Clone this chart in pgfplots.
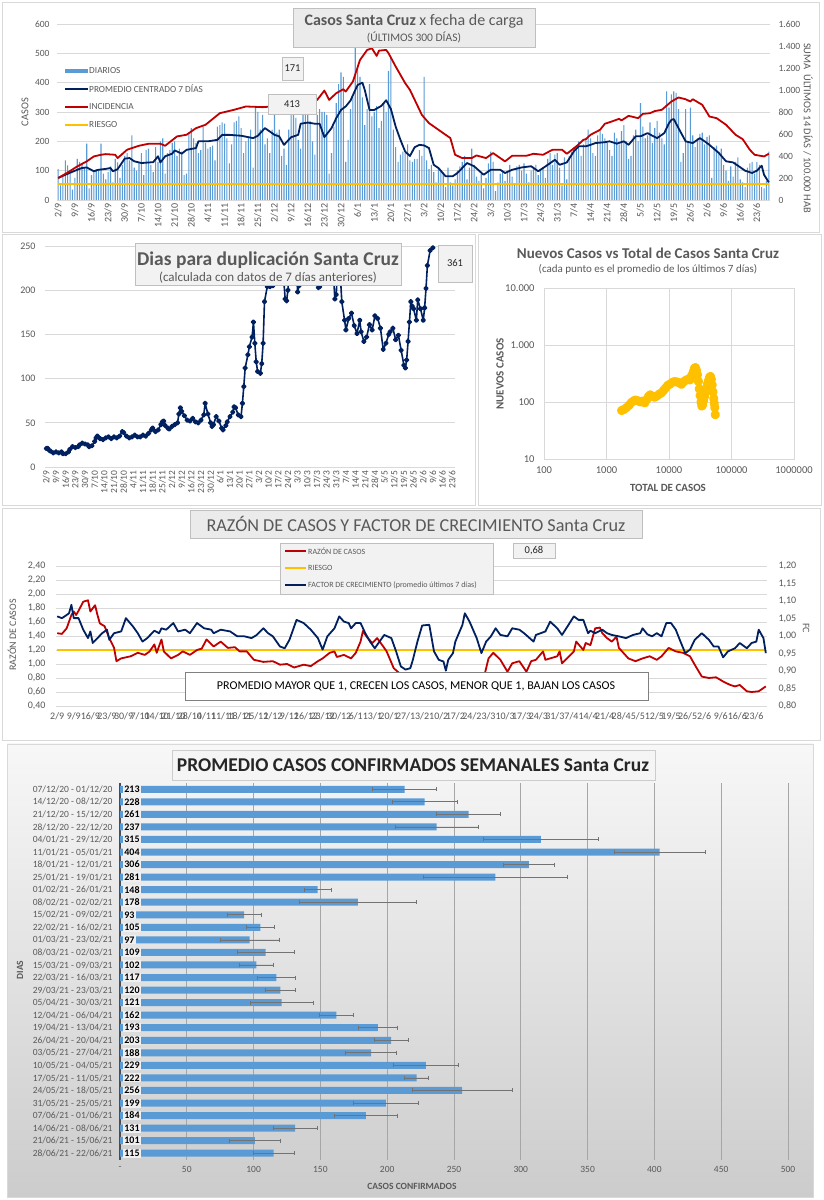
\documentclass[border=0pt]{standalone}
\usepackage{fontspec}
\setmainfont{Carlito}
\usepackage{pgfplots}
\pgfplotsset{compat=1.18}
\usepackage{pgfplotstable}
\definecolor{barblue}{RGB}{91,155,213}
\definecolor{navy}{RGB}{0,32,96}
\definecolor{crimson}{RGB}{192,0,0}
\definecolor{amber}{RGB}{255,192,0}
\definecolor{txt}{RGB}{89,89,89}
\definecolor{gridc}{RGB}{217,217,217}
\definecolor{boxfill}{RGB}{242,242,242}
\definecolor{titlefill}{RGB}{235,235,235}
\definecolor{boxline}{RGB}{191,191,191}
\newcommand{\fs}[1]{\fontsize{#1}{#1}\selectfont}

\pgfplotsset{
  exstyle/.style={scale only axis, anchor=south west, tick style={draw=none},
    grid style={gridc, line width=0.6pt}, tick label style={text=txt},
    /pgf/number format/assume math mode=true},
  datelabels/.style={xtick={0,7,...,294},
    xticklabels={2/9,9/9,16/9,23/9,30/9,7/10,14/10,21/10,28/10,4/11,11/11,18/11,25/11,2/12,9/12,16/12,23/12,30/12,6/1,13/1,20/1,27/1,3/2,10/2,17/2,24/2,3/3,10/3,17/3,24/3,31/3,7/4,14/4,21/4,28/4,5/5,12/5,19/5,26/5,2/6,9/6,16/6,23/6}},
}

% casos diarios, 2/9/2020 -> 28/6/2021
\pgfplotstableread[row sep=\\]{
v\\
105\\50\\80\\135\\118\\90\\35\\
75\\140\\130\\125\\110\\192\\40\\
85\\95\\105\\100\\192\\90\\70\\
95\\115\\60\\140\\128\\75\\120\\
150\\160\\135\\220\\110\\100\\130\\
160\\85\\170\\175\\120\\95\\180\\
130\\200\\210\\90\\160\\170\\195\\
200\\150\\175\\165\\85\\90\\230\\
245\\210\\195\\160\\170\\250\\195\\
175\\180\\185\\135\\250\\255\\265\\
260\\210\\125\\190\\265\\270\\285\\
245\\160\\200\\215\\240\\110\\320\\
300\\240\\290\\190\\210\\160\\240\\
290\\230\\240\\150\\175\\120\\240\\
300\\320\\280\\205\\175\\300\\290\\
310\\270\\200\\155\\290\\310\\300\\
300\\290\\90\\160\\250\\330\\395\\
435\\420\\130\\205\\310\\350\\530\\
460\\420\\350\\255\\310\\395\\285\\
300\\320\\245\\270\\330\\300\\440\\
490\\240\\180\\130\\155\\165\\160\\
190\\135\\130\\140\\140\\170\\150\\
420\\135\\105\\120\\95\\60\\110\\
100\\90\\45\\110\\60\\50\\70\\
100\\115\\130\\150\\70\\110\\175\\
120\\80\\65\\90\\40\\75\\125\\
165\\130\\30\\60\\90\\95\\65\\
100\\120\\80\\55\\115\\120\\100\\
125\\90\\60\\100\\110\\120\\85\\
105\\110\\75\\140\\160\\120\\155\\
160\\110\\50\\145\\70\\150\\165\\
180\\175\\200\\150\\190\\210\\240\\
210\\160\\150\\220\\235\\225\\210\\
195\\170\\150\\230\\210\\190\\235\\
255\\200\\140\\150\\220\\240\\200\\
330\\250\\210\\220\\265\\195\\245\\
270\\230\\210\\190\\370\\315\\360\\
370\\365\\310\\130\\160\\310\\200\\
315\\220\\180\\210\\225\\230\\190\\
215\\220\\75\\180\\185\\165\\175\\
120\\100\\65\\115\\80\\130\\145\\
70\\60\\45\\110\\125\\130\\90\\
130\\120\\45\\40\\65\\165\\
}\diarios

\begin{document}
\begin{tikzpicture}
\useasboundingbox (0pt,0pt) rectangle (823pt,1200pt);
\fill[white] (0pt,0pt) rectangle (823pt,1200pt);
\begin{scope}[x=1pt,y=1pt]
\draw[gridc] (2,968) rectangle (819,1198);
\draw[gridc] (2,695) rectangle (475,966);
\draw[gridc] (478,695) rectangle (821,966);
\draw[gridc] (2,460) rectangle (820,692);
\shade[top color=white!97!black, bottom color=white!80!black] (7,3) rectangle (813,456);
\draw[gridc] (7,3) rectangle (813,456);
\end{scope}

% ---------- panel 1: casos diarios ----------
\begin{axis}[exstyle, at={(57pt,1000pt)}, width=713pt, height=176pt,
  xmin=-0.5, xmax=299.5, ymin=0, ymax=600, datelabels,
  axis x line*=bottom, axis y line*=left, x axis line style={gridc}, y axis line style={draw=none},
  xticklabel style={rotate=90, anchor=east, font=\fs{10}},
  ytick={0,100,...,600}, ymajorgrids, yticklabel style={font=\fs{9.5}, xshift=-4pt}, scaled y ticks=false]
\addplot[ybar, bar width=1.1pt, fill=barblue, draw=none] table[x expr=\coordindex, y=v]{\diarios};
\addplot[amber, line width=2pt] coordinates {(0,56)(299,56)};
\addplot[navy, line width=1.8pt, line join=round] coordinates {
(0,75)(3,86)(8,103)(10,109)(12,111)(15,98)(17,103)(20,106)(22,109)(23,98)(25,105)(28,141)(30,143)(32,132)(35,126)(40,129)(42,149)(43,128)(45,149)(48,158)(49,169)(52,158)(54,171)(56,174)(58,177)(59,200)(61,200)(63,200)(67,205)(69,222)(72,222)(77,219)(82,211)(84,219)(87,245)(90,228)(91,222)(93,217)(95,188)(98,214)(101,222)(102,260)(105,264)(108,260)(110,260)(112,214)(115,245)(117,279)(119,307)(121,319)(123,339)(125,375)(126,392)(128,400)(129,375)(131,307)(133,307)(136,321)(138,340)(140,310)(142,250)(144,205)(146,165)(148,150)(150,180)(152,188)(154,186)(156,177)(158,120)(160,109)(163,81)(166,81)(168,92)(170,109)(172,126)(175,115)(179,86)(182,103)(186,103)(188,92)(191,103)(195,111)(199,115)(202,98)(206,120)(209,137)(211,120)(214,128)(217,166)(219,183)(222,183)(224,188)(226,194)(230,197)(232,200)(235,192)(238,200)(240,188)(243,217)(245,217)(248,228)(250,219)(252,211)(255,228)(257,262)(258,273)(259,276)(261,245)(264,200)(267,194)(270,211)(272,200)(274,188)(278,160)(281,132)(284,128)(286,117)(289,100)(292,92)(294,100)(296,117)(297,86)(299,60)};
\end{axis}
\begin{axis}[exstyle, at={(57pt,1000pt)}, width=713pt, height=176pt,
  xmin=-0.5, xmax=299.5, ymin=0, ymax=1600,
  axis x line=none, axis y line*=right, y axis line style={draw=none},
  ytick={0,200,...,1600}, scaled y ticks=false,
  yticklabel style={font=\fs{9.5}, xshift=5pt, /pgf/number format/1000 sep={.}}]
\addplot[crimson, line width=1.8pt, line join=round] coordinates {
(0,200)(4,250)(8,305)(12,351)(15,396)(18,411)(20,417)(24,411)(25,381)(29,457)(34,493)(38,511)(43,511)(45,493)(50,578)(54,593)(58,653)(62,684)(68,789)(74,820)(79,850)(86,844)(90,850)(95,870)(100,890)(105,905)(109,910)(112,995)(114,910)(117,971)(120,1007)(121,986)(124,1077)(127,1273)(130,1364)(132,1379)(134,1310)(135,1358)(138,1364)(139,1334)(142,1213)(146,1062)(148,1001)(152,820)(153,774)(156,699)(162,608)(165,563)(167,411)(170,381)(174,381)(176,405)(180,381)(183,426)(188,351)(191,402)(197,402)(200,420)(204,411)(208,457)(212,457)(214,420)(218,487)(221,547)(222,553)(224,593)(228,638)(230,693)(233,714)(236,738)(237,723)(240,765)(244,744)(246,783)(249,789)(251,808)(254,820)(258,895)(261,932)(264,916)(266,895)(267,916)(271,865)(274,759)(277,744)(281,684)(285,593)(288,553)(291,457)(293,411)(297,396)(299,420)};
\end{axis}

% ---------- panel 2: dias para duplicacion ----------
\begin{axis}[exstyle, at={(45pt,733pt)}, width=410pt, height=221pt,
  xmin=-1, xmax=296, ymin=0, ymax=250, datelabels,
  axis x line*=bottom, axis y line*=left, x axis line style={gridc}, y axis line style={draw=none},
  xticklabel style={rotate=90, anchor=east, font=\fs{9.5}},
  ytick={0,50,...,250}, ymajorgrids, yticklabel style={font=\fs{10}, xshift=-6pt}]
\addplot[navy, line width=1.6pt, line join=round, mark=*, mark size=1.9pt, mark options={fill=navy}] coordinates {
(0,21)(1,21)(2,19)(3,18)(5,16)(7,17)(9,16)(11,17)(12,15)(14,15)(16,17)(17,20)(19,23)(21,22)(23,23)(24,25)(26,27)(28,26)(30,25)(31,23)(33,24)(35,29)(36,33)(37,35)(39,32)(41,31)(43,33)(45,34)(47,32)(49,34)(51,33)(53,35)(55,40)(56,39)(58,35)(60,33)(62,34)(64,36)(66,34)(68,34)(70,36)(72,35)(74,38)(76,42)(77,44)(79,40)(81,42)(83,48)(84,51)(85,52)(86,47)(88,44)(89,43)(91,46)(93,48)(95,50)(96,60)(97,67)(98,63)(100,58)(102,53)(104,52)(106,55)(108,51)(110,50)(112,53)(114,59)(115,72)(117,60)(119,50)(120,46)(121,48)(123,57)(125,52)(127,44)(128,42)(130,47)(131,51)(133,57)(135,62)(136,68)(137,67)(139,59)(141,57)(142,72)(143,91)(144,112)(146,127)(147,136)(149,147)(150,164)(151,140)(152,119)(153,108)(155,106)(156,117)(157,140)(158,187)(160,204)(162,204)(164,205)(166,240)(168,300)(170,260)(172,210)(173,190)(174,188)(175,200)(177,260)(179,300)(181,240)(182,198)(183,205)(185,260)(188,320)(191,300)(194,260)(196,210)(197,203)(198,204)(200,230)(203,290)(206,260)(208,215)(209,190)(210,195)(211,230)(213,215)(214,187)(216,166)(217,155)(219,168)(221,174)(223,160)(225,151)(227,166)(228,153)(230,142)(232,147)(234,161)(236,155)(238,171)(240,168)(242,157)(244,133)(246,140)(248,150)(249,153)(251,157)(253,144)(255,149)(257,132)(259,115)(260,112)(261,121)(262,142)(263,164)(264,187)(265,182)(266,179)(268,166)(269,189)(271,179)(273,166)(274,180)(275,202)(276,228)(278,245)(280,248)};
\end{axis}

% ---------- panel 3: nuevos vs total ----------
\begin{loglogaxis}[exstyle, at={(544pt,741pt)}, width=250pt, height=171pt,
  xmin=100, xmax=1000000, ymin=10, ymax=10000,
  xtick={100,1000,10000,100000,1000000}, xticklabels={100,1000,10000,100000,1000000},
  ytick={10,100,1000,10000}, yticklabels={10,100,1.000,10.000},
  grid=major, axis line style={gridc},
  xticklabel style={font=\fs{10.5}, yshift=-4pt}, yticklabel style={font=\fs{10.5}, xshift=-6pt}]
\addplot[amber, line width=4pt, line join=round, line cap=round, mark=*, mark size=2.6pt, mark options={fill=amber}] coordinates {
(1750,71)(1900,74)(2100,80)(2300,88)(2500,98)(2700,104)(2900,108)(3200,105)(3500,100)(3800,104)(4100,97)(4400,110)(4700,125)(5000,133)(5400,126)(5900,121)(6400,128)(7000,138)(7600,145)(8200,160)(8800,175)(9500,195)(10300,205)(11200,220)(12200,228)(13300,225)(14500,218)(15800,205)(17000,225)(18500,240)(20000,250)(21500,245)(23000,290)(24500,340)(25500,390)(26500,400)(27500,360)(28500,300)(29500,230)(30500,170)(31500,130)(32500,100)(33500,85)(34500,90)(35500,105)(37000,125)(38500,150)(40000,180)(41500,210)(43000,240)(44500,270)(46000,280)(47500,250)(49000,200)(50500,150)(52000,115)(53000,95)(54000,80)(55000,60)};
\end{loglogaxis}

% ---------- panel 4: razon de casos y factor de crecimiento ----------
\begin{axis}[exstyle, at={(56pt,494pt)}, width=711pt, height=140pt,
  xmin=-0.5, xmax=299.5, ymin=0.4, ymax=2.4, datelabels,
  axis x line*=bottom, axis y line*=left, x axis line style={gridc}, y axis line style={draw=none},
  xticklabel style={font=\fs{10}, yshift=-3pt},
  ytick={0.4,0.6,...,2.41}, ymajorgrids,
  yticklabel style={font=\fs{10}, xshift=-7pt, /pgf/number format/.cd, fixed, fixed zerofill, precision=2, use comma}]
\addplot[amber, line width=2pt] coordinates {(0,1.2)(299,1.2)};
\addplot[crimson, line width=1.8pt, line join=round] coordinates {
(0,1.44)(2,1.43)(4,1.51)(6,1.70)(7,1.75)(8,1.70)(9,1.76)(11,1.89)(13,1.91)(14,1.75)(16,1.84)(17,1.70)(18,1.58)(20,1.54)(22,1.37)(24,1.23)(25,1.04)(27,1.08)(31,1.11)(34,1.16)(37,1.13)(39,1.18)(41,1.28)(42,1.16)(44,1.35)(45,1.18)(48,1.08)(51,1.13)(53,1.18)(56,1.13)(59,1.20)(61,1.22)(63,1.35)(66,1.25)(69,1.32)(72,1.23)(75,1.24)(77,1.18)(80,1.18)(83,1.06)(87,1.03)(91,1.04)(94,0.99)(97,1.00)(100,0.95)(104,0.99)(107,0.97)(110,1.04)(112,1.08)(115,1.16)(117,1.18)(118,1.10)(121,1.13)(124,1.08)(126,1.16)(128,1.32)(129,1.47)(131,1.37)(133,1.30)(135,1.37)(138,1.23)(139,1.18)(142,0.94)(145,0.85)(148,0.77)(150,0.72)(152,0.61)(155,0.54)(157,0.56)(160,0.59)(164,0.63)(167,0.66)(168,0.56)(171,0.56)(174,0.61)(178,0.68)(180,0.80)(182,1.08)(184,1.16)(187,1.06)(190,0.89)(192,1.01)(195,1.04)(198,0.89)(200,1.04)(202,1.06)(205,1.18)(206,1.06)(211,1.11)(212,1.18)(213,1.01)(216,1.11)(218,1.18)(219,1.32)(222,1.20)(223,1.30)(225,1.27)(227,1.51)(229,1.52)(230,1.44)(232,1.37)(234,1.32)(236,1.39)(237,1.23)(241,1.08)(244,1.04)(247,1.08)(250,1.11)(253,1.06)(255,1.11)(258,1.23)(261,1.18)(264,1.16)(267,1.11)(269,0.99)(272,0.82)(275,0.80)(278,0.81)(281,0.75)(284,0.70)(286,0.68)(288,0.70)(291,0.61)(293,0.60)(296,0.61)(299,0.68)};
\end{axis}
\begin{axis}[exstyle, at={(56pt,494pt)}, width=711pt, height=140pt,
  xmin=-0.5, xmax=299.5, ymin=0.8, ymax=1.2,
  axis x line=none, axis y line*=right, y axis line style={draw=none},
  ytick={0.8,0.85,...,1.21},
  yticklabel style={font=\fs{10}, xshift=8pt, /pgf/number format/.cd, fixed, fixed zerofill, precision=2, use comma}]
\addplot[navy, line width=1.8pt, line join=round] coordinates {
(0,1.056)(2,1.051)(4,1.060)(5,1.065)(6,1.089)(7,1.051)(9,1.051)(11,1.018)(13,0.994)(14,1.013)(15,0.980)(17,0.994)(19,1.008)(21,1.018)(22,0.989)(24,1.008)(27,1.013)(29,1.051)(32,1.027)(34,1.008)(36,0.984)(38,0.994)(41,1.015)(43,1.008)(44,1.022)(46,1.018)(49,1.037)(51,1.013)(54,1.018)(56,1.008)(59,1.037)(62,1.022)(65,1.018)(66,1.008)(69,1.018)(73,1.013)(76,0.999)(79,0.999)(82,0.994)(84,1.002)(87,1.022)(89,1.008)(91,0.999)(94,0.970)(96,0.965)(98,0.989)(101,1.046)(104,1.037)(107,1.018)(110,0.994)(112,0.961)(114,0.999)(117,1.022)(119,1.056)(121,1.041)(123,1.037)(124,1.022)(126,1.037)(128,1.037)(130,1.008)(132,0.984)(134,0.965)(136,0.984)(138,1.003)(141,0.994)(143,0.956)(145,0.913)(147,0.904)(149,0.908)(150,0.930)(152,0.984)(154,1.030)(157,1.032)(158,0.994)(159,0.956)(161,0.932)(163,0.927)(164,0.901)(165,0.932)(167,0.951)(168,0.984)(171,1.032)(172,1.065)(174,1.041)(177,0.994)(179,0.951)(181,0.984)(183,0.999)(185,1.022)(187,1.003)(190,0.999)(192,1.022)(195,1.018)(197,1.008)(201,0.984)(202,1.003)(204,1.008)(206,1.013)(208,1.041)(211,1.022)(213,1.003)(215,1.024)(218,1.056)(220,1.046)(222,1.046)(224,1.008)(225,1.015)(227,1.008)(230,1.018)(232,1.008)(234,1.003)(237,0.999)(240,0.994)(243,1.003)(246,1.008)(247,1.022)(249,1.005)(251,0.999)(253,1.008)(255,0.999)(257,1.037)(259,1.037)(261,1.018)(263,0.984)(265,0.951)(267,0.961)(269,0.989)(272,1.008)(275,0.989)(277,0.970)(279,0.970)(281,0.939)(283,0.956)(286,0.965)(288,0.980)(291,0.965)(293,0.980)(295,0.984)(296,1.018)(298,0.994)(299,0.951)};
\end{axis}

% ---------- panel 5: promedio semanal ----------
\begin{axis}[exstyle, at={(120pt,40.5pt)}, width=668pt, height=376.5pt,
  xmin=0, xmax=500, ymin=-0.5, ymax=29.5, y dir=reverse,
  axis x line*=bottom, axis y line*=left, x axis line style={draw=none},
  y axis line style={draw=black!70, line width=1.3pt},
  xtick={0,50,...,500}, xticklabels={-,50,100,150,200,250,300,350,400,450,500},
  xmajorgrids, grid style={black!35, line width=0.8pt},
  xticklabel style={font=\fs{9.5}, yshift=-3pt},
  ytick={0,...,29}, yticklabel style={font=\fs{9.5}, xshift=-4pt},
  yticklabels={07/12/20 - 01/12/20,14/12/20 - 08/12/20,21/12/20 - 15/12/20,28/12/20 - 22/12/20,04/01/21 - 29/12/20,11/01/21 - 05/01/21,18/01/21 - 12/01/21,25/01/21 - 19/01/21,01/02/21 - 26/01/21,08/02/21 - 02/02/21,15/02/21 - 09/02/21,22/02/21 - 16/02/21,01/03/21 - 23/02/21,08/03/21 - 02/03/21,15/03/21 - 09/03/21,22/03/21 - 16/03/21,29/03/21 - 23/03/21,05/04/21 - 30/03/21,12/04/21 - 06/04/21,19/04/21 - 13/04/21,26/04/21 - 20/04/21,03/05/21 - 27/04/21,10/05/21 - 04/05/21,17/05/21 - 11/05/21,24/05/21 - 18/05/21,31/05/21 - 25/05/21,07/06/21 - 01/06/21,14/06/21 - 08/06/21,21/06/21 - 15/06/21,28/06/21 - 22/06/21}]
\addplot[xbar, bar width=7pt, fill=barblue, draw=none,
  error bars/.cd, x dir=both, x explicit, error mark=|,
  error bar style={black!55, line width=0.7pt},
  error mark options={black!55, mark size=2pt, line width=0.7pt}] coordinates {
(213,0) +- (24,0) (228,1) +- (24.5,0) (261,2) +- (24,0) (237,3) +- (31,0)
(315,4) +- (43,0) (404,5) +- (34,0) (306,6) +- (19,0) (281,7) +- (54,0)
(148,8) +- (10,0) (178,9) +- (44,0) (93,10) +- (13,0) (105,11) +- (10.5,0)
(97,12) +- (22,0) (109,13) +- (21.5,0) (102,14) +- (13,0) (117,15) +- (14.5,0)
(120,16) +- (11.5,0) (121,17) +- (23.5,0) (162,18) +- (12.5,0) (193,19) +- (14.5,0)
(203,20) +- (12.5,0) (188,21) +- (19,0) (229,22) +- (24.5,0) (222,23) +- (9,0)
(256,24) +- (37.5,0) (199,25) +- (24,0) (184,26) +- (23.5,0) (131,27) +- (16.5,0)
(101,28) +- (19,0) (115,29) +- (15.5,0)};
\addplot[only marks, mark=none, nodes near coords, point meta=explicit symbolic,
  nodes near coords align={horizontal},
  every node near coord/.style={anchor=west, xshift=3pt, fill=white!94!black, inner sep=1.2pt, font=\bfseries\fs{10}, text=black}] coordinates {
(0,0)[213] (0,1)[228] (0,2)[261] (0,3)[237] (0,4)[315] (0,5)[404] (0,6)[306] (0,7)[281]
(0,8)[148] (0,9)[178] (0,10)[93] (0,11)[105] (0,12)[97] (0,13)[109] (0,14)[102] (0,15)[117]
(0,16)[120] (0,17)[121] (0,18)[162] (0,19)[193] (0,20)[203] (0,21)[188] (0,22)[229] (0,23)[222]
(0,24)[256] (0,25)[199] (0,26)[184] (0,27)[131] (0,28)[101] (0,29)[115]};
\end{axis}

% ---------- annotations ----------
\begin{scope}[x=1pt,y=1pt]
% panel 1
\draw[boxline, fill=titlefill] (293,1153) rectangle (535,1192);
\node[font=\fs{16}, text=txt] at (414,1179) {\textbf{Casos Santa Cruz} x fecha de carga};
\node[font=\fs{11.5}, text=txt] at (414,1162) {(ÚLTIMOS 300 DÍAS)};
\draw[boxline, fill=boxfill] (282,1120) rectangle (303,1143);
\node[font=\fs{10.5}, text=black!85] at (292.5,1131.5) {171};
\draw[boxline, fill=boxfill] (268,1086) rectangle (316,1106);
\node[font=\fs{10.5}, text=black!85] at (292,1096) {413};
\draw[barblue, line width=4pt] (65,1129) -- (88,1129);
\node[anchor=west, font=\fs{9.3}, text=txt, inner sep=1pt] at (88,1129) {DIARIOS};
\draw[navy, line width=2pt] (65,1111) -- (88,1111);
\node[anchor=west, font=\fs{9.3}, text=txt, inner sep=1pt] at (88,1111) {PROMEDIO CENTRADO 7 DÍAS};
\draw[crimson, line width=2pt] (65,1093) -- (88,1093);
\node[anchor=west, font=\fs{9.3}, text=txt, inner sep=1pt] at (88,1093) {INCIDENCIA};
\draw[amber, line width=2pt] (65,1075) -- (88,1075);
\node[anchor=west, font=\fs{9.3}, text=txt, inner sep=1pt] at (88,1075) {RIESGO};
\node[rotate=90, font=\fs{10.5}, text=txt] at (25,1088) {CASOS};
\node[rotate=-90, font=\fs{10.5}, text=txt] at (808,1072) {SUMA\ \ ÚLTIMOS 14 DÍAS / 100.000 HAB};
% panel 2
\draw[boxline, fill=boxfill] (135,915) rectangle (401,957);
\node[font=\bfseries\fs{19.5}, text=txt] at (268,940) {Dias para duplicación Santa Cruz};
\node[font=\fs{13}, text=txt] at (268,922) {(calculada con datos de 7 días anteriores)};
\draw[boxline, fill=boxfill] (438,918) rectangle (472,955);
\node[font=\fs{10.5}, text=black!85] at (455,936.5) {361};
% panel 3
\node[font=\bfseries\fs{15}, text=txt] at (648,947) {Nuevos Casos vs Total de Casos Santa Cruz};
\node[font=\fs{11}, text=txt] at (648,931) {(cada punto es el promedio de los últimos 7 días)};
\node[font=\bfseries\fs{11}, text=txt] at (668,712) {TOTAL DE CASOS};
\node[rotate=90, font=\bfseries\fs{11}, text=txt] at (500,826) {NUEVOS CASOS};
% panel 4
\draw[boxline, fill=titlefill] (190,662) rectangle (642,690);
\node[font=\fs{18.2}, text=txt] at (416,676) {RAZÓN DE CASOS Y FACTOR DE CRECIMIENTO Santa Cruz};
\draw[boxline, fill=boxfill] (280,606) rectangle (493,657);
\draw[crimson, line width=2pt] (285,649) -- (306,649);
\node[anchor=west, font=\fs{8}, text=txt, inner sep=1pt] at (307,649) {RAZÓN DE CASOS};
\draw[amber, line width=2pt] (285,632) -- (306,632);
\node[anchor=west, font=\fs{8}, text=txt, inner sep=1pt] at (307,632) {RIESGO};
\draw[navy, line width=2pt] (285,615) -- (306,615);
\node[anchor=west, font=\fs{8}, text=txt, inner sep=1pt] at (307,615) {FACTOR DE CRECIMIENTO (promedio últimos 7 días)};
\draw[boxline, fill=boxfill] (513,642) rectangle (555,657);
\node[font=\fs{10.5}, text=black!85] at (534,649.5) {0,68};
\draw[black!50, fill=white] (185,500) rectangle (648,528);
\node[font=\fs{12}, text=black] at (416,514) {PROMEDIO MAYOR QUE 1, CRECEN LOS CASOS, MENOR QUE 1, BAJAN LOS CASOS};
\node[rotate=90, font=\fs{10}, text=txt] at (12,565) {RAZÓN DE CASOS};
\node[rotate=-90, font=\fs{10}, text=txt] at (806,572) {FC};
% panel 5
\draw[black!20, fill=white!96!black] (172,420) rectangle (655,450);
\node[font=\bfseries\fs{19.5}, text=black!85] at (413,435) {PROMEDIO CASOS CONFIRMADOS SEMANALES Santa Cruz};
\node[font=\bfseries\fs{9.5}, text=txt] at (412,14) {CASOS CONFIRMADOS};
\node[rotate=90, font=\bfseries\fs{9.5}, text=txt] at (20,230) {DIAS};
\end{scope}
\end{tikzpicture}
\end{document}
